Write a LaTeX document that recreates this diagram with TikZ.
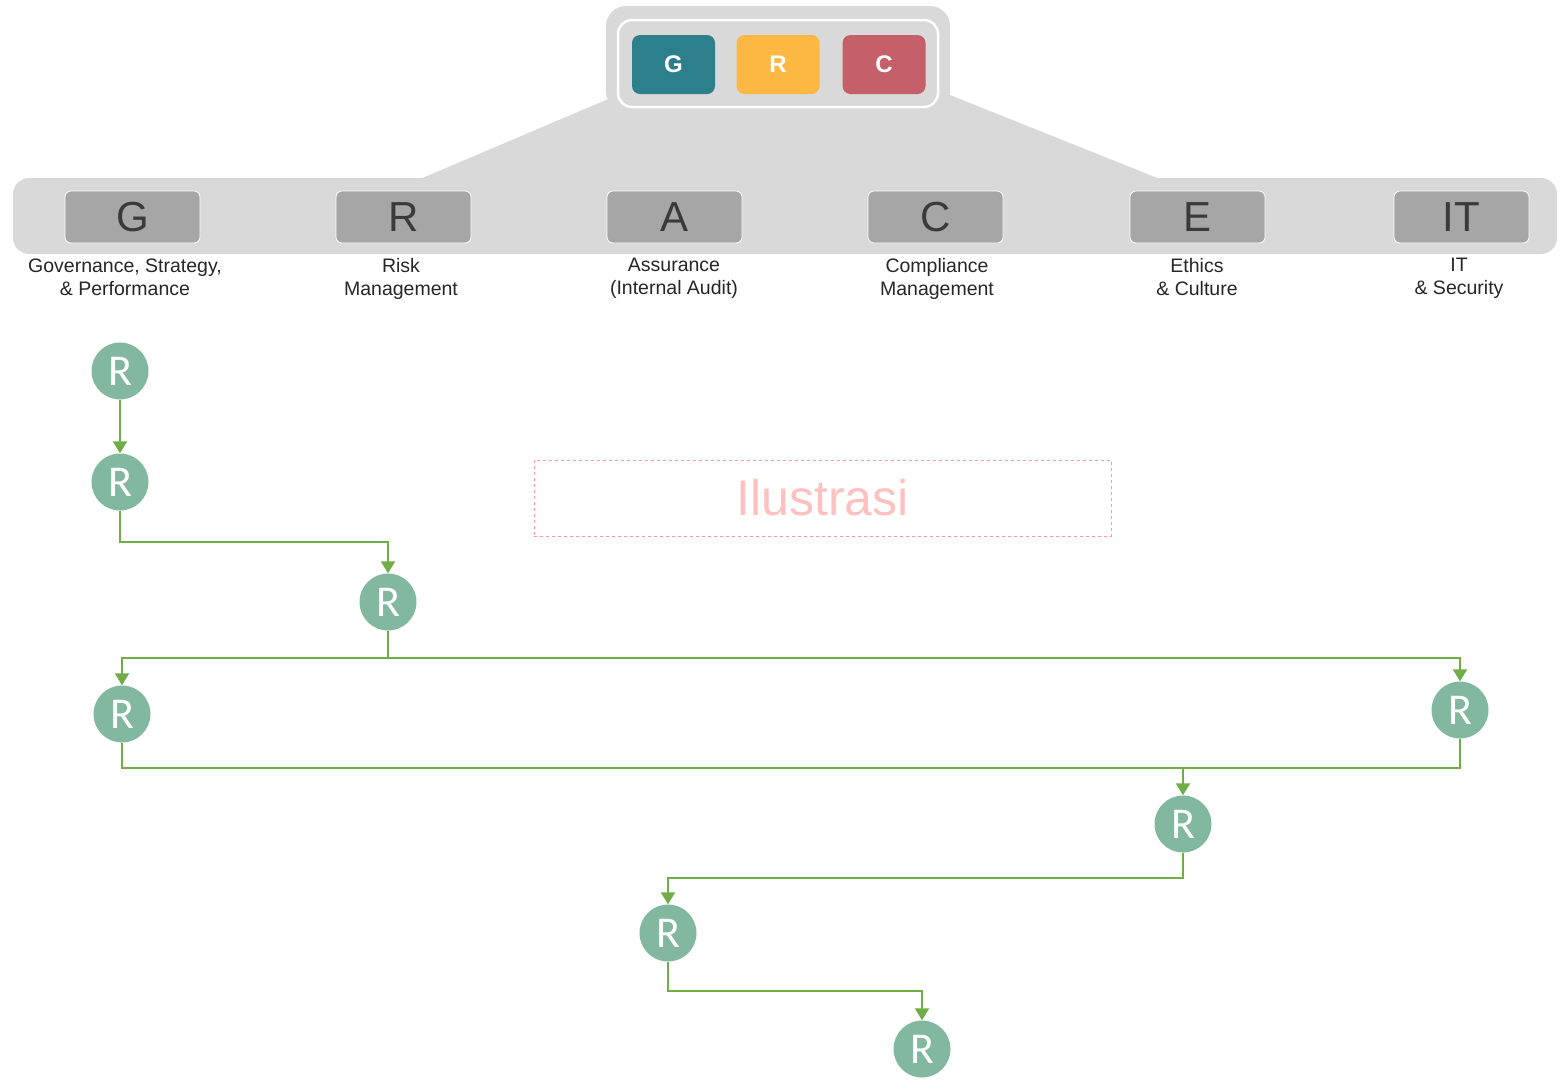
\documentclass[tikz,border=0pt]{standalone}
\usepackage{fontspec}
\setmainfont{Liberation Sans}
\newfontfamily\circfont{Carlito}
\usetikzlibrary{arrows.meta}
\definecolor{bandgray}{HTML}{D9D9D9}
\definecolor{boxgray}{HTML}{A6A6A6}
\definecolor{lettergray}{HTML}{3A3A3A}
\definecolor{teal1}{HTML}{2E7F8C}
\definecolor{amber1}{HTML}{FDB844}
\definecolor{rose1}{HTML}{C55F69}
\definecolor{circgreen}{HTML}{82B8A0}
\definecolor{linegreen}{HTML}{70AD47}
\definecolor{pinkline}{HTML}{FF9999}
\definecolor{pinktext}{HTML}{FFC0C0}
\tikzset{
  topbox/.style={rounded corners=8pt, minimum width=83pt, minimum height=59pt, inner sep=0pt, text=white, font=\bfseries\fontsize{24}{24}\selectfont},
  catbox/.style={fill=boxgray, draw=white, line width=0.8pt, rounded corners=6pt, minimum width=135pt, minimum height=52pt, inner sep=0pt, text=lettergray, font=\fontsize{42}{42}\selectfont},
  catlabel/.style={align=center, font=\fontsize{19.5}{23}\selectfont, text=black!85, inner sep=0pt},
  rnode/.style={circle, fill=circgreen, minimum size=57pt, inner sep=0pt, text=white, font=\circfont\fontsize{44}{44}\selectfont},
  flow/.style={draw=linegreen, line width=2pt, -{Triangle[length=12pt,width=14pt]}},
  flowplain/.style={draw=linegreen, line width=2pt},
}
\begin{document}
\begin{tikzpicture}[x=1pt,y=-1pt]
\useasboundingbox (0,0) rectangle (1565,1088);
% gray background
\fill[bandgray, rounded corners=16pt] (13,178) rectangle (1557,254);
\fill[bandgray] (420,179) -- (606,100) -- (950,95) -- (1160,179) -- cycle;
\fill[bandgray, rounded corners=20pt] (606,6) rectangle (950,112);
\draw[white, line width=2.5pt, rounded corners=14pt] (618,20) rectangle (938,107);
% top boxes
\node[topbox, fill=teal1] (tg) at (673.5,64.5) {G};
\node[topbox, fill=amber1] (tr) at (778,64.5) {R};
\node[topbox, fill=rose1] (tc) at (884,64.5) {C};
% category boxes
\node[catbox] (bg) at (132.5,217) {G};
\node[catbox] (br) at (403.5,217) {R};
\node[catbox] (ba) at (674.5,217) {A};
\node[catbox] (bc) at (935.5,217) {C};
\node[catbox] (be) at (1197.5,217) {E};
\node[catbox] (bit) at (1461.5,217) {IT};
\node[catlabel] (lg) at (125,277.5) {Governance, Strategy,\\\& Performance};
\node[catlabel] (lr) at (401,278.5) {Risk\\Management};
\node[catlabel] (la) at (674,278.5) {Assurance\\(Internal Audit)};
\node[catlabel] (lc) at (937,278.5) {Compliance\\Management};
\node[catlabel] (le) at (1197,277.5) {Ethics\\\& Culture};
\node[catlabel] (lit) at (1459,278.5) {IT\\\& Security};
% illustration placeholder
\node[draw=pinkline, dashed, line width=0.7pt, minimum width=577pt, minimum height=76pt, inner sep=0pt, text=pinktext, font=\fontsize{50}{50}\selectfont] (ilu) at (822.5,498) {Ilustrasi};
% circles
\node[rnode] (c1) at (120,371) {R};
\node[rnode] (c2) at (120,482) {R};
\node[rnode] (c3) at (388,602) {R};
\node[rnode] (c4) at (122,714) {R};
\node[rnode] (c5) at (1460,710) {R};
\node[rnode] (c6) at (1183,824) {R};
\node[rnode] (c7) at (668,933) {R};
\node[rnode] (c8) at (922,1049) {R};
% connectors
\coordinate (j3) at (388,658);
\coordinate (j6) at (1183,768);
\path[flow] (c1) -- (c2);
\path[flow] (c2.south) |- (254,542) -| (c3.north);
\path[flowplain] (c3.south) -- (j3);
\path[flow] (j3) -| (c4.north);
\path[flow] (j3) -| (c5.north);
\path[flowplain] (c4.south) |- (j6);
\path[flowplain] (c5.south) |- (j6);
\path[flow] (j6) -- (c6.north);
\path[flow] (c6.south) |- (925,878) -| (c7.north);
\path[flow] (c7.south) |- (795,991) -| (c8.north);
\end{tikzpicture}
\end{document}
